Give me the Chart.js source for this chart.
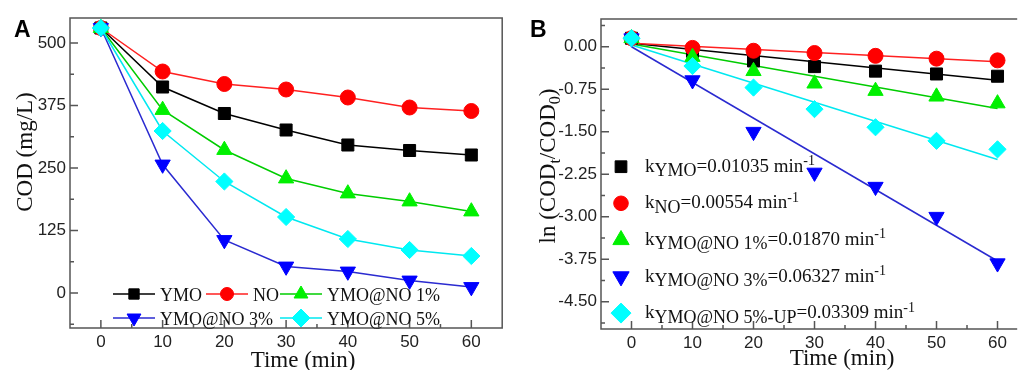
<!DOCTYPE html>
<html>
<head>
<meta charset="utf-8">
<script src="https://cdn.jsdelivr.net/npm/chart.js@4.4.1/dist/chart.umd.min.js"></script>
<style>
  html, body { margin: 0; padding: 0; background: #fff; overflow: hidden; }
  #wrap { position: relative; width: 1025px; height: 370px; }
  .panel { position: absolute; top: 0; height: 370px; }
  #panelA { left: 0; width: 512px; }
  #panelB { left: 512px; width: 513px; }
</style>
</head>
<body>
<div id="wrap">
  <div class="panel" id="panelA"><canvas id="chartA" width="512" height="370"></canvas></div>
  <div class="panel" id="panelB"><canvas id="chartB" width="513" height="370"></canvas></div>
</div>
<script>
// ---- data ----
var timeMin = [0, 10, 20, 30, 40, 50, 60];
var seriesNames = ['YMO', 'NO', 'YMO@NO 1%', 'YMO@NO 3%', 'YMO@NO 5%'];

// panel A : COD (mg/L)
var codYMO  = [530, 412, 359, 326, 296, 285, 276];
var codNO   = [530, 443, 418, 407, 391, 371, 364];
var codYMO1 = [530, 366, 286, 229, 199, 183, 163];
var codYMO3 = [530, 257, 106, 53, 43, 25, 12];
var codYMO5 = [530, 324, 223, 152, 108, 86, 74];

// panel B : ln(CODt/COD0)
var lnYMO  = [0.15, -0.08, -0.25, -0.35, -0.43, -0.48, -0.52];
var lnNO   = [0.15, -0.02, -0.07, -0.11, -0.16, -0.21, -0.24];
var lnYMO1 = [0.15, -0.18, -0.43, -0.65, -0.78, -0.88, -1.00];
var lnYMO3 = [0.15, -0.59, -1.50, -2.22, -2.47, -3.00, -3.82];
var lnYMO5 = [0.15, -0.34, -0.72, -1.10, -1.42, -1.66, -1.81];

// fitted lines, read at both ends (t = 0 and t = 60)
var fitTimes = [0, 60];
var fitYMO  = [0.06, -0.59];
var fitNO   = [0.06, -0.265];
var fitYMO1 = [0.05, -1.09];
var fitYMO3 = [0.00, -3.78];
var fitYMO5 = [0.03, -1.99];

var rateSubs   = ['YMO', 'NO', 'YMO@NO 1%', 'YMO@NO 3%', 'YMO@NO 5%-UP'];
var rateValues = ['0.01035', '0.00554', '0.01870', '0.06327', '0.03309'];

var xTicks   = [0, 10, 20, 30, 40, 50, 60];
var codTicks = [0, 125, 250, 375, 500];
var lnTicks  = [0, -0.75, -1.5, -2.25, -3, -3.75, -4.5];

// look of each series
var markColor = ['#000000', '#ff0000', '#00f000', '#0000ff', '#00ffff'];
var lineColor = ['#000000', '#ff2020', '#00cc00', '#2a2ad0', '#00e8f0'];
var markStyle = ['rect', 'circle', 'triangle', 'triangle', 'rectRot'];
var markRot   = [0, 0, 0, 180, 0];
var markSize  = [8.5, 7.5, 8.8, 8.8, 8.6];

var serif = '"Liberation Serif", "Times New Roman", serif';
var sans  = '"Liberation Sans", Arial, sans-serif';

function pairs(xs, ys) {
  return xs.map(function (x, i) { return { x: x, y: ys[i] }; });
}

// same geometry as chart.js point styles
function drawMark(ctx, style, rot, x, y, r, color) {
  ctx.save();
  ctx.fillStyle = color;
  ctx.strokeStyle = color;
  ctx.lineWidth = 1;
  ctx.beginPath();
  if (style === 'circle') {
    ctx.arc(x, y, r, 0, Math.PI * 2);
  } else if (style === 'rect') {
    var s = Math.SQRT1_2 * r;
    ctx.rect(x - s, y - s, 2 * s, 2 * s);
  } else if (style === 'rectRot') {
    ctx.moveTo(x, y - r); ctx.lineTo(x + r, y); ctx.lineTo(x, y + r); ctx.lineTo(x - r, y);
  } else {
    var a = rot * Math.PI / 180;
    for (var k = 0; k < 3; k++) {
      var px = x + Math.sin(a) * r, py = y - Math.cos(a) * r;
      if (k === 0) ctx.moveTo(px, py); else ctx.lineTo(px, py);
      a += Math.PI * 2 / 3;
    }
  }
  ctx.closePath();
  ctx.fill();
  ctx.stroke();
  ctx.restore();
}

function minorValues(ticks, min, max) {
  var out = [];
  var step = Math.abs(ticks[1] - ticks[0]);
  var lo = Math.min.apply(null, ticks), hi = Math.max.apply(null, ticks);
  for (var v = lo - step / 2; v <= hi + step / 2; v += step) {
    if (v > min && v < max) out.push(v);
  }
  return out;
}

// box + inward tick marks
var framePlugin = {
  id: 'frame',
  beforeDatasetsDraw: function (chart, args, opts) {
    var ctx = chart.ctx, a = chart.chartArea;
    var xs = chart.scales.x, ys = chart.scales.y;
    ctx.save();
    ctx.strokeStyle = '#555';
    ctx.lineWidth = 1.5;
    ctx.beginPath();
    if (opts.openRight) {
      ctx.moveTo(a.right + 2, a.top); ctx.lineTo(a.left, a.top);
      ctx.lineTo(a.left, a.bottom); ctx.lineTo(a.right + 2, a.bottom);
    } else {
      ctx.rect(a.left, a.top, a.right - a.left, a.bottom - a.top);
    }
    ctx.stroke();

    ctx.beginPath();
    xTicks.forEach(function (v) {
      var p = xs.getPixelForValue(v);
      ctx.moveTo(p, a.bottom); ctx.lineTo(p, a.bottom - 8);
    });
    minorValues(xTicks, xs.min, xs.max).forEach(function (v) {
      var p = xs.getPixelForValue(v);
      ctx.moveTo(p, a.bottom); ctx.lineTo(p, a.bottom - 4);
    });
    opts.yTicks.forEach(function (v) {
      var p = ys.getPixelForValue(v);
      ctx.moveTo(a.left, p); ctx.lineTo(a.left + 8, p);
    });
    minorValues(opts.yTicks, ys.min, ys.max).forEach(function (v) {
      var p = ys.getPixelForValue(v);
      ctx.moveTo(a.left, p); ctx.lineTo(a.left + 4, p);
    });
    ctx.stroke();
    ctx.restore();
  }
};

function scaleOpts(min, max, ticks, fmt, size) {
  return {
    type: 'linear', min: min, max: max,
    grid: { display: false, drawTicks: false },
    border: { display: false },
    afterBuildTicks: function (s) { s.ticks = ticks.map(function (v) { return { value: v }; }); },
    afterFit: size,
    ticks: {
      autoSkip: false, maxRotation: 0, padding: 4, color: '#222',
      font: { family: sans, size: 17 },
      callback: fmt
    }
  };
}

// ---------------- panel A ----------------
var codSets = [codYMO, codNO, codYMO1, codYMO3, codYMO5];
var dataA = codSets.map(function (vals, i) {
  return {
    label: seriesNames[i],
    data: pairs(timeMin, vals),
    showLine: true,
    borderColor: lineColor[i],
    borderWidth: 1.5,
    pointStyle: markStyle[i],
    pointRotation: markRot[i],
    pointRadius: markSize[i],
    pointBackgroundColor: markColor[i],
    pointBorderColor: markColor[i],
    pointBorderWidth: 1,
    clip: false,
    order: 5 - i
  };
});

var textA = {
  id: 'textA',
  afterDatasetsDraw: function (chart) {
    var ctx = chart.ctx;
    // legend: two rows inside the plot
    var slots = [[113, 294], [206, 294], [280, 294], [113, 318], [280, 318]];
    var legR = [7.3, 6.5, 8, 8, 9];
    ctx.save();
    ctx.font = '18px ' + serif;
    ctx.textBaseline = 'alphabetic';
    ctx.textAlign = 'left';
    seriesNames.forEach(function (name, i) {
      var x = slots[i][0], y = slots[i][1];
      ctx.strokeStyle = lineColor[i];
      ctx.lineWidth = 1.5;
      ctx.beginPath(); ctx.moveTo(x, y); ctx.lineTo(x + 42, y); ctx.stroke();
      drawMark(ctx, markStyle[i], markRot[i], x + 21, y, legR[i], markColor[i]);
      ctx.fillStyle = '#111';
      ctx.fillText(name, x + 47, y + 7);
    });

    // axis titles
    ctx.font = '23px ' + serif;
    ctx.textAlign = 'center';
    ctx.fillText('Time (min)', 303, 367);
    ctx.save();
    ctx.translate(32, 152);
    ctx.rotate(-Math.PI / 2);
    ctx.fillText('COD (mg/L)', 0, 0);
    ctx.restore();

    ctx.font = 'bold 23px ' + sans;
    ctx.textAlign = 'left';
    ctx.fillStyle = '#000';
    ctx.fillText('A', 14, 37);
    ctx.restore();
  }
};

new Chart(document.getElementById('chartA'), {
  type: 'scatter',
  data: { datasets: dataA },
  plugins: [framePlugin, textA],
  options: {
    responsive: false,
    animation: false,
    layout: { padding: { top: 18, right: 4, left: 0, bottom: 0 } },
    plugins: {
      legend: { display: false },
      tooltip: { enabled: false },
      frame: { yTicks: codTicks, openRight: false }
    },
    scales: {
      x: scaleOpts(-5, 65, xTicks, function (v) { return v; }, function (s) { s.height = 42; }),
      y: scaleOpts(-70, 550, codTicks, function (v) { return v; }, function (s) { s.width = 70; })
    }
  }
});

// ---------------- panel B ----------------
var lnSets = [lnYMO, lnNO, lnYMO1, lnYMO3, lnYMO5];
var fitSets = [fitYMO, fitNO, fitYMO1, fitYMO3, fitYMO5];
var dataB = [];
fitSets.forEach(function (vals, i) {
  dataB.push({
    label: 'fit ' + seriesNames[i],
    data: pairs(fitTimes, vals),
    showLine: true,
    borderColor: lineColor[i],
    borderWidth: 1.5,
    pointRadius: 0,
    clip: false,
    order: 20 - i
  });
});
lnSets.forEach(function (vals, i) {
  dataB.push({
    label: seriesNames[i],
    data: pairs(timeMin, vals),
    showLine: false,
    pointStyle: markStyle[i],
    pointRotation: markRot[i],
    pointRadius: markSize[i],
    pointBackgroundColor: markColor[i],
    pointBorderColor: markColor[i],
    pointBorderWidth: 1,
    clip: false,
    order: 5 - i
  });
});

var textB = {
  id: 'textB',
  afterDatasetsDraw: function (chart) {
    var ctx = chart.ctx;
    var legR = [8.3, 7.3, 9.4, 9.4, 10];
    ctx.save();
    ctx.textBaseline = 'alphabetic';
    ctx.textAlign = 'left';
    ctx.fillStyle = '#111';
    rateSubs.forEach(function (sub, i) {
      var my = 166.7 + i * 36.6;
      drawMark(ctx, markStyle[i], markRot[i], 109, my, legR[i], markColor[i]);
      var x = 133, y = my + 5;
      ctx.fillStyle = '#111';
      ctx.font = '19px ' + serif;
      ctx.fillText('k', x, y);
      x += ctx.measureText('k').width;
      ctx.font = '18px ' + serif;
      ctx.fillText(sub, x, y + 4.5);
      x += ctx.measureText(sub).width;
      ctx.font = '19px ' + serif;
      var main = '=' + rateValues[i] + ' min';
      ctx.fillText(main, x, y);
      x += ctx.measureText(main).width;
      ctx.font = '14px ' + serif;
      ctx.fillText('-1', x, y - 6.5);
    });

    // x title
    ctx.font = '23px ' + serif;
    ctx.textAlign = 'center';
    ctx.fillText('Time (min)', 330, 364.5);

    // y title with subscripts
    var parts = [['ln (COD', 0, 23], ['t', 5, 16], ['/COD', 0, 23], ['0', 5, 16], [')', 0, 23]];
    var total = 0;
    parts.forEach(function (p) {
      ctx.font = p[2] + 'px ' + serif;
      total += ctx.measureText(p[0]).width;
    });
    ctx.save();
    ctx.translate(43, 166);
    ctx.rotate(-Math.PI / 2);
    ctx.textAlign = 'left';
    var px = -total / 2;
    parts.forEach(function (p) {
      ctx.font = p[2] + 'px ' + serif;
      ctx.fillText(p[0], px, p[1]);
      px += ctx.measureText(p[0]).width;
    });
    ctx.restore();

    ctx.font = 'bold 23px ' + sans;
    ctx.fillStyle = '#000';
    ctx.textAlign = 'left';
    ctx.fillText('B', 18, 37);
    ctx.restore();
  }
};

new Chart(document.getElementById('chartB'), {
  type: 'scatter',
  data: { datasets: dataB },
  plugins: [framePlugin, textB],
  options: {
    responsive: false,
    animation: false,
    layout: { padding: { top: 19, right: 0, left: 0, bottom: 0 } },
    plugins: {
      legend: { display: false },
      tooltip: { enabled: false },
      frame: { yTicks: lnTicks, openRight: true }
    },
    scales: {
      x: scaleOpts(-5, 62.9, xTicks, function (v) { return v; }, function (s) { s.height = 41; }),
      y: scaleOpts(-4.98, 0.49, lnTicks, function (v) { return v.toFixed(2); }, function (s) { s.width = 89; })
    }
  }
});
</script>
</body>
</html>
